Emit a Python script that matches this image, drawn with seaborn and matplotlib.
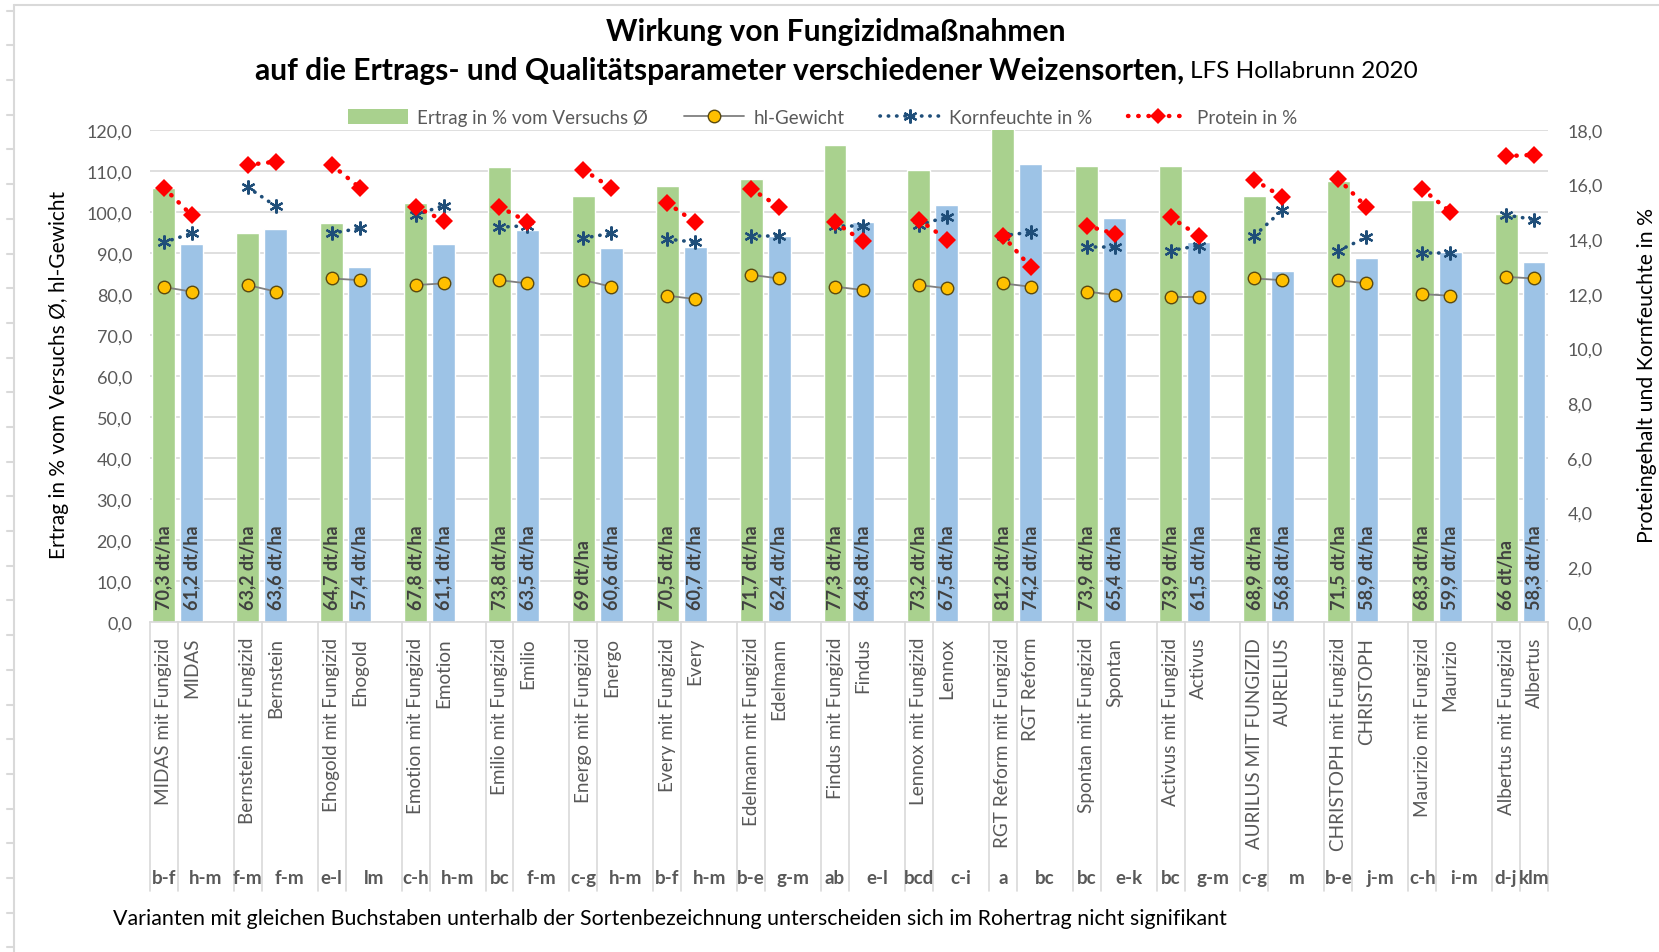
import numpy as np
import pandas as pd
import seaborn as sns
import matplotlib.pyplot as plt
from matplotlib.lines import Line2D
from matplotlib.patches import Patch
from matplotlib.ticker import FuncFormatter, MultipleLocator
import matplotlib.transforms as mtransforms

# ---- data ----
sorten = ["MIDAS", "Bernstein", "Ehogold", "Emotion", "Emilio", "Energo", "Every",
          "Edelmann", "Findus", "Lennox", "RGT Reform", "Spontan", "Activus",
          "AURELIUS", "CHRISTOPH", "Maurizio", "Albertus"]
labels_mit = ["MIDAS mit Fungizid", "Bernstein mit Fungizid", "Ehogold mit Fungizid",
              "Emotion mit Fungizid", "Emilio mit Fungizid", "Energo mit Fungizid",
              "Every mit Fungizid", "Edelmann mit Fungizid", "Findus mit Fungizid",
              "Lennox mit Fungizid", "RGT Reform mit Fungizid", "Spontan mit Fungizid",
              "Activus mit Fungizid", "AURILUS MIT FUNGIZID", "CHRISTOPH mit Fungizid",
              "Maurizio mit Fungizid", "Albertus mit Fungizid"]
labels_ohne = sorten

letters_mit = ["b-f", "f-m", "e-l", "c-h", "bc", "c-g", "b-f", "b-e", "ab", "bcd",
               "a", "bc", "bc", "c-g", "b-e", "c-h", "d-j"]
letters_ohne = ["h-m", "f-m", "lm", "h-m", "f-m", "h-m", "h-m", "g-m", "e-l", "c-i",
                "bc", "e-k", "g-m", "m", "j-m", "i-m", "klm"]

dt_mit = ["70,3", "63,2", "64,7", "67,8", "73,8", "69", "70,5", "71,7", "77,3", "73,2",
          "81,2", "73,9", "73,9", "68,9", "71,5", "68,3", "66"]
dt_ohne = ["61,2", "63,6", "57,4", "61,1", "63,5", "60,6", "60,7", "62,4", "64,8", "67,5",
           "74,2", "65,4", "61,5", "56,8", "58,9", "59,9", "58,3"]

ertrag_mit = [105.8, 94.9, 97.3, 102.0, 110.9, 103.8, 106.2, 107.9, 116.3, 110.1,
              122.0, 111.2, 111.2, 103.7, 107.5, 102.9, 99.4]
ertrag_ohne = [92.0, 95.7, 86.4, 92.0, 95.6, 91.1, 91.4, 94.0, 97.5, 101.6,
               111.7, 98.4, 92.5, 85.5, 88.6, 90.1, 87.7]

hl_mit = [81.6, 82.1, 83.7, 82.1, 83.3, 83.3, 79.5, 84.6, 81.7, 82.1,
          82.5, 80.5, 79.1, 83.7, 83.3, 79.9, 84.1]
hl_ohne = [80.5, 80.5, 83.3, 82.5, 82.5, 81.7, 78.7, 83.7, 80.9, 81.3,
           81.7, 79.7, 79.1, 83.3, 82.5, 79.5, 83.7]

kf_mit = [13.88, 15.89, 14.21, 14.88, 14.43, 14.03, 14.0, 14.1, 14.49, 14.52,
          14.12, 13.7, 13.57, 14.12, 13.57, 13.49, 14.88]
kf_ohne = [14.21, 15.2, 14.39, 15.22, 14.49, 14.21, 13.88, 14.1, 14.49, 14.8,
           14.25, 13.7, 13.76, 15.06, 14.06, 13.49, 14.71]

protein_mit = [15.87, 16.71, 16.71, 15.18, 15.18, 16.53, 15.32, 15.83, 14.61, 14.71,
               14.12, 14.49, 14.8, 16.16, 16.2, 15.83, 17.03]
protein_ohne = [14.86, 16.83, 15.88, 14.67, 14.63, 15.87, 14.61, 15.18, 13.92, 13.98,
                12.97, 14.19, 14.12, 15.53, 15.18, 15.0, 17.08]

GREEN = "#A9D18E"
BLUE = "#9DC3E6"
TXT = "#595959"

sns.set_style("white")
plt.rcParams["font.family"] = ["Lato", "DejaVu Sans"]

# each variety takes three slots: with fungicide, without, empty
n = len(sorten)
pos_mit = np.arange(n) * 3
pos_ohne = np.arange(n) * 3 + 1

bars = pd.DataFrame({
    "pos": np.concatenate([pos_mit, pos_ohne]),
    "ertrag": ertrag_mit + ertrag_ohne,
    "variante": ["mit"] * n + ["ohne"] * n,
})
pairs = pd.DataFrame({
    "pos": np.concatenate([pos_mit, pos_ohne]),
    "pair": list(range(n)) * 2,
    "hl": hl_mit + hl_ohne,
    "kf": kf_mit + kf_ohne,
    "protein": protein_mit + protein_ohne,
})

fig = plt.figure(figsize=(16.59, 9.53), dpi=100)
ax = fig.add_axes([0.0904, 0.3466, 0.8427, 0.5163])

sns.barplot(data=bars, x="pos", y="ertrag", hue="variante",
            palette={"mit": GREEN, "ohne": BLUE}, native_scale=True, dodge=False,
            width=0.82, saturation=1, legend=False, ax=ax, zorder=2)

sns.lineplot(data=pairs, x="pos", y="hl", units="pair", estimator=None,
             color="#7F7F7F", lw=1.3, marker="o", markersize=9,
             markerfacecolor="#FFC000", markeredgecolor="#5A4A10", markeredgewidth=1.0,
             legend=False, ax=ax, zorder=4)

ax.set_xlim(-0.5, pos_ohne[-1] + 0.5)
ax.set_ylim(0, 120)
ax.yaxis.set_major_locator(MultipleLocator(10))
fmt = FuncFormatter(lambda v, p: f"{v:.1f}".replace(".", ","))
ax.yaxis.set_major_formatter(fmt)
ax.grid(axis="y", color="#D9D9D9", lw=1.2)
ax.grid(axis="x", visible=False)
ax.set_axisbelow(True)
for s in ["top", "left", "right"]:
    ax.spines[s].set_visible(False)
ax.spines["bottom"].set_color("#D9D9D9")
ax.spines["bottom"].set_linewidth(1.2)
ax.tick_params(axis="y", length=0, pad=13, labelsize=13, labelcolor=TXT)

ax.set_xticks(np.concatenate([pos_mit, pos_ohne]))
ax.set_xticklabels(labels_mit + labels_ohne, rotation=90, va="top", ha="center",
                   fontsize=13.6, color=TXT)
ax.tick_params(axis="x", length=0, pad=11)
ax.set_xlabel("")
ax.set_ylabel("Ertrag in % vom Versuchs Ø, hl-Gewicht", fontsize=15, color="black")
ax.yaxis.set_label_coords(-0.058, 0.503)

# dt/ha labels inside the bars
for x, t in zip(pos_mit, dt_mit):
    ax.text(x, 3, f"{t} dt/ha", rotation=90, ha="center", va="bottom",
            fontsize=13, fontweight="bold", color="#404040", zorder=5)
for x, t in zip(pos_ohne, dt_ohne):
    ax.text(x, 3, f"{t} dt/ha", rotation=90, ha="center", va="bottom",
            fontsize=13, fontweight="bold", color="#404040", zorder=5)

# category separators and significance letters below the axis
trans = mtransforms.blended_transform_factory(ax.transData, ax.transAxes)
seps = sorted(set(list(pos_mit - 0.5) + list(pos_mit + 0.5) + [pos_ohne[-1] + 0.5]))
for xs in seps:
    ax.plot([xs, xs], [0, -0.547], transform=trans, color="#D9D9D9", lw=1.2,
            clip_on=False, zorder=1)
for i in range(n):
    ax.text(pos_mit[i], -0.519, letters_mit[i], transform=trans, ha="center",
            va="center", fontsize=13.5, fontweight="bold", color=TXT)
    xo = pos_ohne[i] + 0.5 if i < n - 1 else pos_ohne[i]
    ax.text(xo, -0.519, letters_ohne[i], transform=trans, ha="center",
            va="center", fontsize=13.5, fontweight="bold", color=TXT)

# secondary axis: Kornfeuchte and Protein
ax2 = ax.twinx()
sns.lineplot(data=pairs, x="pos", y="kf", units="pair", estimator=None,
             color="#1F4E79", lw=2.6, linestyle=(0, (0.1, 2.2)), dash_capstyle="round",
             marker=(6, 2, 0), markersize=10, markeredgewidth=1.6,
             markeredgecolor="#1F4E79", legend=False, ax=ax2, zorder=5)
sns.lineplot(data=pairs, x="pos", y="protein", units="pair", estimator=None,
             color="#FF0000", lw=3.2, linestyle=(0, (0.1, 2.2)), dash_capstyle="round",
             marker="D", markersize=9, markeredgewidth=0,
             legend=False, ax=ax2, zorder=6)
ax2.set_ylim(0, 18)
ax2.yaxis.set_major_locator(MultipleLocator(2))
ax2.yaxis.set_major_formatter(fmt)
ax2.grid(False)
for s in ax2.spines.values():
    s.set_visible(False)
ax2.tick_params(axis="y", length=0, pad=14, labelsize=13, labelcolor=TXT)
ax2.set_ylabel("Proteingehalt und Kornfeuchte in %", fontsize=15.3, color="black")
ax2.yaxis.set_label_coords(1.064, 0.503)
ax2.set_xlim(ax.get_xlim())

# legend
handles = [
    Patch(facecolor=GREEN, edgecolor="none", label="Ertrag in % vom Versuchs Ø"),
    Line2D([], [], color="#7F7F7F", lw=1.3, marker="o", markersize=9,
           markerfacecolor="#FFC000", markeredgecolor="#5A4A10", label="hl-Gewicht"),
    Line2D([], [], color="#1F4E79", lw=2.6, linestyle=(0, (0.1, 2.2)),
           dash_capstyle="round", marker=(6, 2, 0), markersize=10, markeredgewidth=1.6,
           label="Kornfeuchte in %"),
    Line2D([], [], color="#FF0000", lw=3.2, linestyle=(0, (0.1, 2.2)),
           dash_capstyle="round", marker="D", markersize=8, markeredgewidth=0,
           label="Protein in %"),
]
fig.legend(handles=handles, loc="center", bbox_to_anchor=(0.496, 0.876), ncol=4,
           frameon=False, fontsize=13.5, labelcolor=TXT, handlelength=3.2,
           handleheight=0.9, columnspacing=1.9, handletextpad=0.5)

# titles
fig.text(0.504, 0.966, "Wirkung von Fungizidmaßnahmen", ha="center", va="center",
         fontsize=21.6, fontweight="bold", color="black")
fig.text(0.7137, 0.925, "auf die Ertrags- und Qualitätsparameter verschiedener Weizensorten,",
         ha="right", va="center", fontsize=21.6, fontweight="bold", color="black")
fig.text(0.7174, 0.925, "LFS Hollabrunn 2020", ha="left", va="center",
         fontsize=17.5, color="black")

fig.text(113 / 1659, 0.0357,
         "Varianten mit gleichen Buchstaben unterhalb der Sortenbezeichnung "
         "unterscheiden sich im Rohertrag nicht signifikant",
         ha="left", va="center", fontsize=15.4, color="black")

# chart area frame (light grey, like the spreadsheet edge)
fig.add_artist(Line2D([0.0084, 0.0084], [0, 0.9937], color="#D9D9D9", lw=1.5))
fig.add_artist(Line2D([0.0084, 1.0], [0.9937, 0.9937], color="#D9D9D9", lw=1.5))
for yk in np.arange(0.9877, 0.0, -0.0364):
    fig.add_artist(Line2D([0.004, 0.0084], [yk, yk], color="#D9D9D9", lw=1.5))

fig.savefig("out.png", dpi=100)
